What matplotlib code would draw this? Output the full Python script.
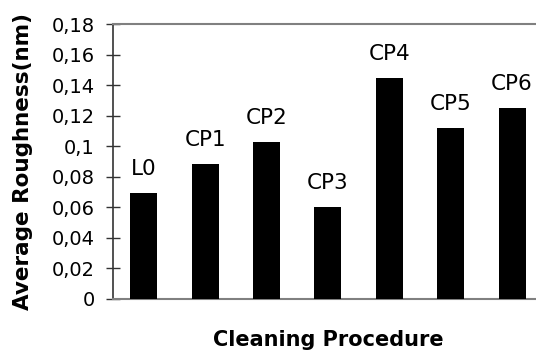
import matplotlib
matplotlib.use("Agg")
import matplotlib.pyplot as plt
from matplotlib.ticker import FuncFormatter, MultipleLocator

categories = ["L0", "CP1", "CP2", "CP3", "CP4", "CP5", "CP6"]
values = [0.069, 0.0884, 0.1029, 0.0603, 0.1448, 0.1118, 0.1249]

plt.rcParams['font.family'] = ['DejaVu Sans']

fig = plt.figure(figsize=(5.36, 3.52), dpi=100)
ax = fig.add_axes([113/536, 1 - 298.6/352, 1 - 113/536, (298.6 - 24)/352])

x = list(range(len(categories)))
bars = ax.bar(x, values, width=0.44, color='black', zorder=3)
for xi, v, c in zip(x, values, categories):
    ax.annotate(c, (xi, v), xytext=(0, 13), textcoords='offset points',
                ha='center', va='baseline', fontsize=15.5, color='black',
                annotation_clip=False)

ax.set_xlim(-0.5, 6.39)
ax.set_ylim(0, 0.18)
ax.yaxis.set_major_locator(MultipleLocator(0.02))

def fmt(v, pos):
    s = ('%.2f' % v).rstrip('0').rstrip('.')
    return s.replace('.', ',')
ax.yaxis.set_major_formatter(FuncFormatter(fmt))
ax.set_xticks([])
ax.tick_params(axis='y', direction='inout', length=9.4, width=1, color='#333333',
               labelsize=14, pad=8.3)

ax.spines['right'].set_visible(False)
ax.spines['left'].set_color('#333333')
ax.spines['left'].set_linewidth(1.2)
for s in ['top', 'bottom']:
    ax.spines[s].set_color('#808080')
    ax.spines[s].set_linewidth(1.5)

fig.text(23/536, 1 - 161.5/352, "Average Roughness(nm)", rotation=90, ha='center', va='center',
         fontsize=15.5, fontweight='bold')
fig.text(328/536, 1 - 340.5/352, "Cleaning Procedure", ha='center', va='center',
         fontsize=15, fontweight='bold')

fig.savefig("out.png", dpi=100)
